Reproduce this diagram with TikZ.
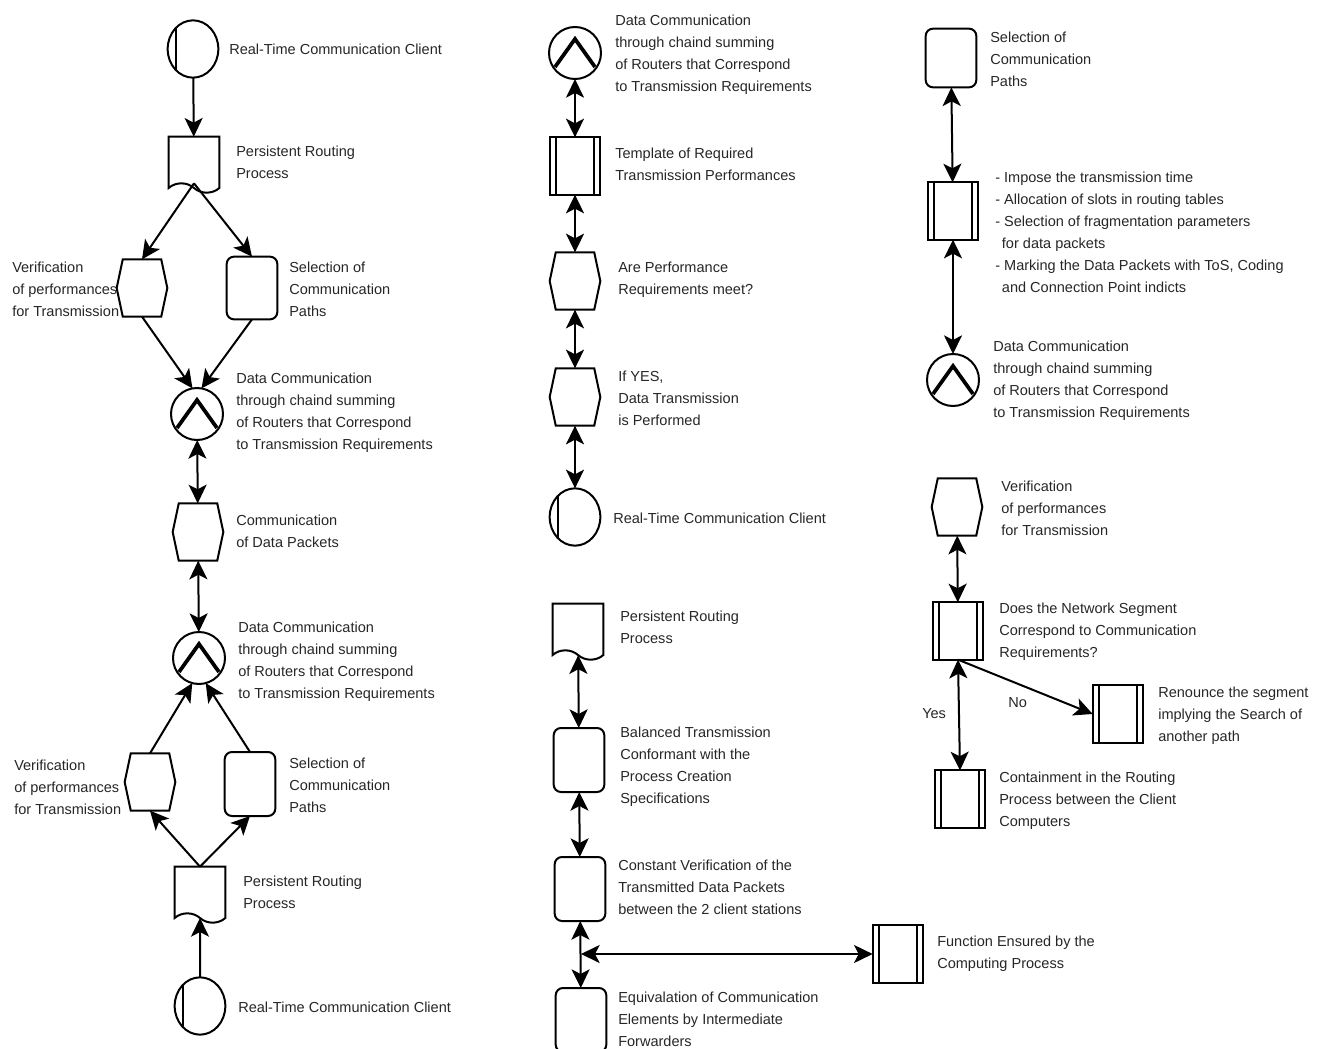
\documentclass[tikz,border=0pt]{standalone}
\usepackage{fontspec}
\setmainfont{Liberation Sans}
\usetikzlibrary{arrows.meta,shapes.geometric,shapes.symbols}
\tikzset{
  base/.style={draw=black, line width=1.5pt, inner sep=0pt, outer sep=0pt},
  client/.style={base, ellipse, minimum width=38pt, minimum height=43pt,
    path picture={\draw [line width=1.3pt] ([xshift=-12.5pt]path picture bounding box.north) -- ([xshift=-12.5pt]path picture bounding box.south);}},
  sumc/.style={base, circle, minimum size=39pt,
    path picture={\draw [line width=2.8pt] ([shift={(-15pt,-10.5pt)}]path picture bounding box.center) -- ([yshift=10.5pt]path picture bounding box.center) -- ([shift={(15pt,-10.5pt)}]path picture bounding box.center);}},
  hexa/.style={base, signal, signal to=west and east, signal pointer angle=156, minimum width=38pt, minimum height=43pt},
  func/.style={base, rectangle, rounded corners=5.5pt, minimum width=38pt, minimum height=48pt},
  proc/.style={base, rectangle, minimum width=38pt, minimum height=43pt,
    path picture={\draw [line width=1.5pt] ([xshift=5pt]path picture bounding box.north west) -- ([xshift=5pt]path picture bounding box.south west);
      \draw [line width=1.5pt] ([xshift=-4.5pt]path picture bounding box.north east) -- ([xshift=-4.5pt]path picture bounding box.south east);}},
  docu/.style={base, tape, tape bend top=none, tape bend bottom=out and in, tape bend height=7pt, minimum width=38pt, minimum height=42pt},
  txt/.style={anchor=west, inner sep=0pt, align=left, font=\fontsize{10.9}{16.5}\selectfont, text=black!85},
  flow/.style={line width=1.5pt, ->},
  flowb/.style={line width=1.5pt, <->},
  >={Stealth[length=14pt, width=13.5pt, inset=3.5pt]},
}
\begin{document}
\begin{tikzpicture}[x=0.75pt, y=-0.75pt]
  \useasboundingbox (0,0) rectangle (1317,1049);
  \clip (0,0) rectangle (1317,1049);

  % left column
  \node [client] (c1) at (193,49) {};
  \node [docu] (doc1) at (194,160) {};
  \node [hexa] (hex1) at (142,288) {};
  \node [func, minimum height=47pt] (func1) at (252,288) {};
  \node [sumc] (sum1) at (197,414) {};
  \node [hexa] (hex2) at (198,532) {};
  \node [sumc] (sum2) at (199,658) {};
  \node [hexa] (hex3) at (150,782) {};
  \node [func] (func2) at (250,784) {};
  \node [docu] (doc2) at (200,890) {};
  \node [client] (c2) at (200,1006) {};

  \node [txt] (tc1) at (229,49) {Real-Time Communication Client};
  \node [txt] (tdoc1) at (236,162) {Persistent Routing\\Process};
  \node [txt] (thex1) at (12,289) {Verification\\of performances\\for Transmission};
  \node [txt] (tfunc1) at (289,289) {Selection of\\Communication\\Paths};
  \node [txt] (tsum1) at (236,413) {Data Communication\\through chaind summing\\of Routers that Correspond\\to Transmission Requirements};
  \node [txt] (thex2) at (236,531) {Communication\\of Data Packets};
  \node [txt] (tsum2) at (238,662) {Data Communication\\through chaind summing\\of Routers that Correspond\\to Transmission Requirements};
  \node [txt] (thex3) at (14,787) {Verification\\of performances\\for Transmission};
  \node [txt] (tfunc2) at (289,785) {Selection of\\Communication\\Paths};
  \node [txt] (tdoc2) at (243,892) {Persistent Routing\\Process};
  \node [txt] (tc2) at (238,1007) {Real-Time Communication Client};

  \draw [flow] (c1) -- (doc1);
  \draw [flow] (doc1.south) -- (hex1.north);
  \draw [flow] (doc1.south) -- (func1.north);
  \draw [flow] (hex1.south) -- (sum1.100);
  \draw [flow] (func1.south) -- (sum1.80);
  \draw [flowb] (sum1) -- (hex2);
  \draw [flowb] (hex2) -- (sum2);
  \draw [flow] (hex3.north) -- (sum2.255);
  \draw [flow] (func2.north) -- (sum2.285);
  \draw [flow] (doc2.north) -- (hex3.south);
  \draw [flow] (doc2.north) -- (func2.south);
  \draw [flow] (c2) -- (doc2);

  % middle column
  \node [sumc] (sum3) at (575,53) {};
  \node [proc] (proc1) at (575,166) {};
  \node [hexa] (hex4) at (575,281) {};
  \node [hexa] (hex5) at (575,397) {};
  \node [client] (c3) at (575,517) {};
  \node [docu] (doc3) at (578,627) {};
  \node [func] (func3) at (579,760) {};
  \node [func] (func4) at (580,889) {};
  \node [func] (func5) at (581,1020) {};
  \node [proc] (proc2) at (898,954) {};
  \coordinate (jn) at (581,954);

  \node [txt] (tsum3) at (615,55) {Data Communication\\through chaind summing\\of Routers that Correspond\\to Transmission Requirements};
  \node [txt] (tproc1) at (615,164) {Template of Required\\Transmission Performances};
  \node [txt] (thex4) at (618,280) {Are Performance\\Requirements meet?};
  \node [txt] (thex5) at (618,398) {If YES,\\Data Transmission\\is Performed};
  \node [txt] (tc3) at (613,518) {Real-Time Communication Client};
  \node [txt] (tdoc3) at (620,627) {Persistent Routing\\Process};
  \node [txt] (tfunc3) at (620,767) {Balanced Transmission\\Conformant with the\\Process Creation\\Specifications};
  \node [txt] (tfunc4) at (618,887) {Constant Verification of the\\Transmitted Data Packets\\between the 2 client stations};
  \node [txt] (tfunc5) at (618,1019) {Equivalation of Communication\\Elements by Intermediate\\Forwarders};
  \node [txt] (tproc2) at (937,954) {Function Ensured by the\\Computing Process};

  \draw [flowb] (sum3) -- (proc1);
  \draw [flowb] (proc1) -- (hex4);
  \draw [flowb] (hex4) -- (hex5);
  \draw [flowb] (hex5) -- (c3);
  \draw [flowb] (doc3) -- (func3);
  \draw [flowb] (func3) -- (func4);
  \draw [flowb] (func4) -- (func5);
  \draw [flowb] (jn) -- (proc2);

  % right column
  \node [func, minimum height=44pt] (func6) at (951,58) {};
  \node [proc] (proc3) at (953,211) {};
  \node [sumc] (sum4) at (953,380) {};
  \node [hexa] (hex6) at (957,507) {};
  \node [proc] (proc4) at (958,631) {};
  \node [proc] (proc5) at (1118,714) {};
  \node [proc] (proc6) at (960,799) {};

  \node [txt] (tfunc6) at (990,59) {Selection of\\Communication\\Paths};
  \node [txt] (tproc3) at (995,232) {- Impose the transmission time\\- Allocation of slots in routing tables\\- Selection of fragmentation parameters\\\hspace*{5pt}for data packets\\- Marking the Data Packets with ToS, Coding\\\hspace*{5pt}and Connection Point indicts};
  \node [txt] (tsum4) at (993,381) {Data Communication\\through chaind summing\\of Routers that Correspond\\to Transmission Requirements};
  \node [txt] (thex6) at (1001,508) {Verification\\of performances\\for Transmission};
  \node [txt] (tproc4) at (999,632) {Does the Network Segment\\Correspond to Communication\\Requirements?};
  \node [txt] (tproc5) at (1158,716) {Renounce the segment\\implying the Search of\\another path};
  \node [txt] (tproc6) at (999,801) {Containment in the Routing\\Process between the Client\\Computers};
  \node [txt] (tyes) at (922,714) {Yes};
  \node [txt] (tno) at (1008,703) {No};

  \draw [flowb] (func6) -- (proc3);
  \draw [flowb] (proc3) -- (sum4);
  \draw [flowb] (hex6) -- (proc4);
  \draw [flow] (proc4.south) -- (proc5.west);
  \draw [flowb] (proc4.south) -- (proc6.north);
\end{tikzpicture}
\end{document}
